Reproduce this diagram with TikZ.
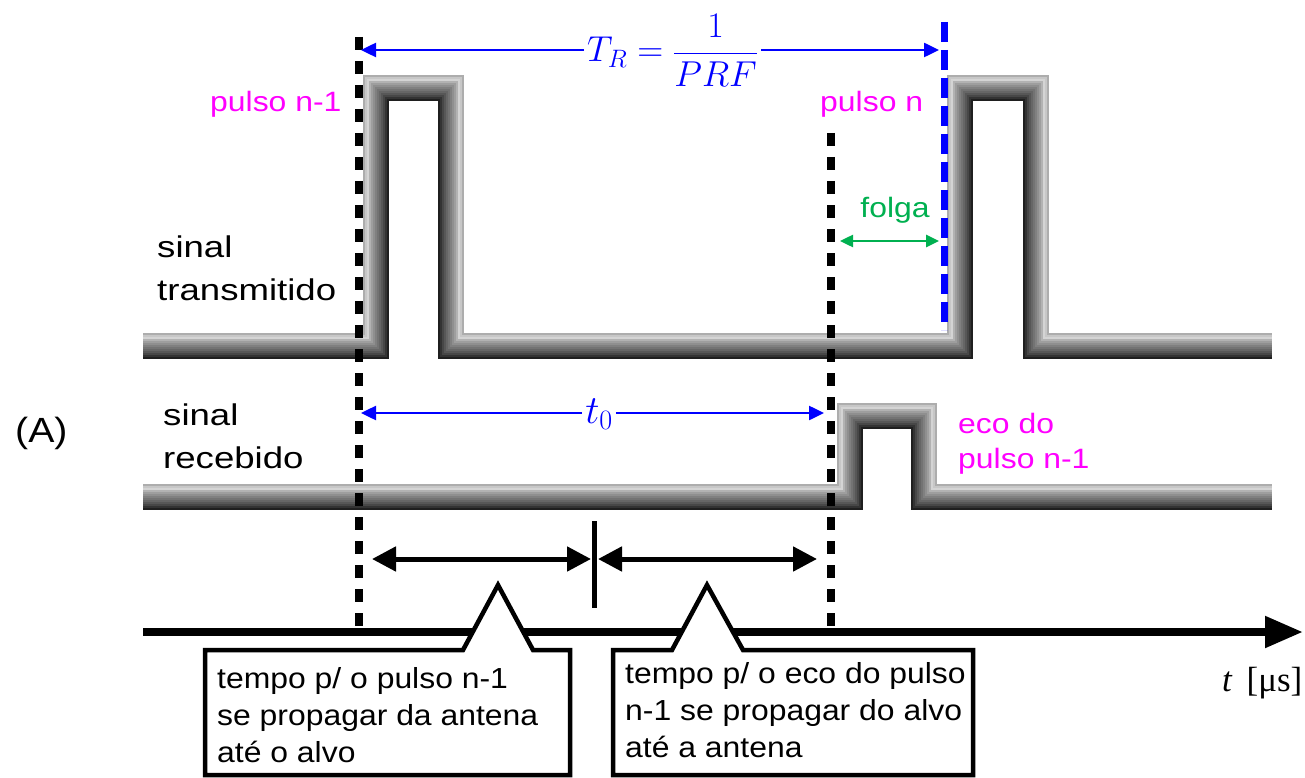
\RequirePackage{fix-cm}
\documentclass[tikz,border=0pt]{standalone}
\usepackage{amsmath}
\usepackage{graphicx}
\usepackage[no-math]{fontspec}
\usetikzlibrary{arrows.meta}
\newfontfamily\labA[FakeStretch=1.22]{Liberation Sans}
\newfontfamily\labB[FakeStretch=1.14]{Liberation Sans}
\newfontfamily\labC[FakeStretch=1.10]{Liberation Sans}
\newfontfamily\labD[FakeStretch=1.12]{Liberation Sans}
\newfontfamily\serifL{Liberation Serif}
\definecolor{mag}{RGB}{255,0,255}
\definecolor{grn}{RGB}{0,176,80}
\definecolor{blu}{RGB}{0,0,255}
\tikzset{
  sig/.style={font=\labA\fontsize{30}{36}\selectfont, anchor=base west, inner sep=0pt},
  pul/.style={font=\labB\fontsize{28}{34}\selectfont, text=mag, anchor=base west, inner sep=0pt},
  boxtxt/.style={font=\labC\fontsize{29}{35}\selectfont, anchor=base west, inner sep=0pt},
  mth/.style={font=\fontsize{36}{42}\selectfont, text=blu, inner sep=3pt},
  barrow/.style={blu, line width=2.5pt, -{Triangle[length=15pt,width=14pt]}},
  garrow/.style={grn, line width=2.5pt, {Triangle[length=13pt,width=12pt]}-{Triangle[length=13pt,width=12pt]}},
  karrow/.style={black, line width=5pt, {Triangle[length=24pt,width=24pt]}-{Triangle[length=24pt,width=24pt]}},
  vdots/.style={black, line width=7.5pt, dash pattern=on 13pt off 11pt},
  bdash/.style={blu, line width=7pt, dash pattern=on 20pt off 8pt},
  callout/.style={fill=white, draw=black, line width=4.5pt, line join=miter},
  axisline/.style={black, line width=8pt, -{Triangle[length=38pt,width=30pt]}},
  tubelayer/.style={line width=2.6pt, line join=miter},
}
\begin{document}
\begin{tikzpicture}[x=1pt,y=-1pt]
\useasboundingbox (0,0) rectangle (1305,778);
\fill[white] (0,0) rectangle (1305,778);

% transmitted signal tube (light on the outer side, dark on the inner side)
\foreach \d/\c in {12/32, 10/22, 8/17, 6/30, 4/38, 2/44, 0/50, -2/55, -4/60, -6/66, -8/72, -10/80, -12/88} {
  \draw[tubelayer, black!\c]
    (143,{346-(\d)}) -- ({376-(\d)},{346-(\d)}) -- ({376-(\d)},{88-(\d)}) -- ({451+(\d)},{88-(\d)})
    -- ({451+(\d)},{346-(\d)}) -- ({960-(\d)},{346-(\d)}) -- ({960-(\d)},{88-(\d)})
    -- ({1036+(\d)},{88-(\d)}) -- ({1036+(\d)},{346-(\d)}) -- (1272,{346-(\d)});
}
% received signal tube
\foreach \d/\c in {12/32, 10/22, 8/17, 6/30, 4/38, 2/44, 0/50, -2/55, -4/60, -6/66, -8/72, -10/80, -12/88} {
  \draw[tubelayer, black!\c]
    (143,{497-(\d)}) -- ({850-(\d)},{497-(\d)}) -- ({850-(\d)},{416-(\d)}) -- ({924+(\d)},{416-(\d)})
    -- ({924+(\d)},{497-(\d)}) -- (1272,{497-(\d)});
}

% vertical markers
\coordinate (v1t) at (359,37);  \coordinate (v1b) at (359,632);
\coordinate (v2t) at (831,133); \coordinate (v2b) at (831,632);
\coordinate (v3t) at (944,22);  \coordinate (v3b) at (944,330);
\draw[vdots] (v1t) -- (v1b);
\draw[vdots] (v2t) -- (v2b);
\draw[bdash] (v3t) -- (v3b);

% T_R
\node[mth, anchor=base west] (TR) at (584,62) {$T_R=\dfrac{1}{PRF}$};
\coordinate (trL) at (361,50); \coordinate (trR) at (939,50);
\draw[barrow] (TR.west |- trL) -- (trL);
\draw[barrow] (TR.east |- trR) -- (trR);

% t0
\node[mth, font=\fontsize{40}{46}\selectfont, anchor=base] (t0) at (599,423) {$t_0$};
\coordinate (t0L) at (361,413); \coordinate (t0R) at (824,413);
\draw[barrow] (t0.west |- t0L) -- (t0L);
\draw[barrow] (t0.east |- t0R) -- (t0R);

% folga
\node[font=\labB\fontsize{28}{34}\selectfont, text=grn, anchor=base, inner sep=0pt] (folga) at (895,217) {folga};
\coordinate (fL) at (840,241); \coordinate (fR) at (939,241);
\draw[garrow] (fL) -- (fR);

% labels
\node[pul] (p1) at (210,112) {pulso n-1};
\node[pul] (pn) at (820,112) {pulso n};
\node[pul] (eco1) at (958,433) {eco do};
\node[pul] (eco2) at (958,468) {pulso n-1};
\node[sig] (s1a) at (157,257) {sinal};
\node[sig] (s1b) at (157,300) {transmitido};
\node[sig] (s2a) at (163,425) {sinal};
\node[sig] (s2b) at (163,468) {recebido};
\node[font=\labD\fontsize{35}{40}\selectfont, anchor=base west, inner sep=0pt] (A) at (15,442) {(A)};

% propagation arrows
\coordinate (a1) at (372,559); \coordinate (a2) at (591,559);
\coordinate (a3) at (598,559); \coordinate (a4) at (817,559);
\coordinate (tk1) at (594,521); \coordinate (tk2) at (594,608);
\draw[karrow] (a1) -- (a2);
\draw[karrow] (a3) -- (a4);
\draw[black, line width=5pt] (tk1) -- (tk2);

% time axis
\coordinate (ax0) at (143,632); \coordinate (ax1) at (1303,632);
\draw[axisline] (ax0) -- (ax1);
\node[font=\serifL\fontsize{35}{40}\selectfont, anchor=base west, inner sep=0pt] (tlab) at (1222,691) {\textit{t}\hspace{0.4em}[μs]};

% callouts
\draw[callout] (205,650) -- (463,650) -- (498,585) -- (533,650) -- (570,650) -- (570,775) -- (205,775) -- cycle;
\draw[callout] (613,650) -- (672,650) -- (707,585) -- (743,650) -- (973,650) -- (973,775) -- (613,775) -- cycle;
\node[boxtxt] (b1a) at (217,688) {tempo p/ o pulso n-1};
\node[boxtxt] (b1b) at (217,725) {se propagar da antena};
\node[boxtxt] (b1c) at (217,762) {até o alvo};
\node[boxtxt] (b2a) at (625,683) {tempo p/ o eco do pulso};
\node[boxtxt] (b2b) at (625,720) {n-1 se propagar do alvo};
\node[boxtxt] (b2c) at (625,757) {até a antena};
\end{tikzpicture}
\end{document}
